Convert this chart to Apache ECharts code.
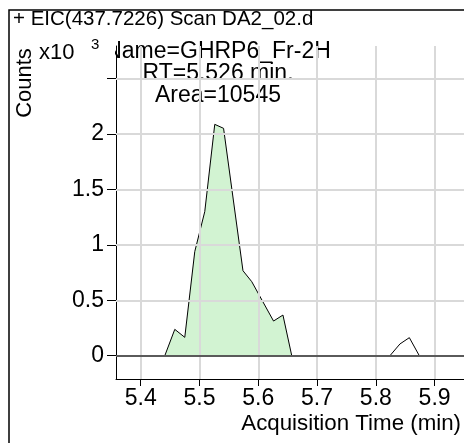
<!DOCTYPE html>
<html>
<head>
<meta charset="utf-8">
<script src="https://cdn.jsdelivr.net/npm/echarts@6/dist/echarts.min.js"></script>
<style>
  html, body { margin: 0; padding: 0; background: #fff; }
  #chart { width: 464px; height: 443px; }
</style>
</head>
<body>
<div id="chart"></div>
<script>
// Extracted ion chromatogram, counts in units of 10^3
const mainPeakTime   = [5.441, 5.458, 5.475, 5.492, 5.509, 5.526, 5.541, 5.574, 5.589, 5.626, 5.642, 5.657];
const mainPeakCounts = [0, 0.238, 0.166, 0.94, 1.30, 2.088, 2.052, 0.767, 0.668, 0.313, 0.367, 0];
const minorPeakTime   = [5.824, 5.841, 5.857, 5.874];
const minorPeakCounts = [0, 0.106, 0.163, 0];

const xTicks = [5.4, 5.5, 5.6, 5.7, 5.8, 5.9];
const yTicks = [0, 0.5, 1, 1.5, 2, 2.5];
const yLabels = [0, 0.5, 1, 1.5, 2];

const titleText = '+ EIC(437.7226) Scan DA2_02.d';
const peakInfo = ['Name=GHRP6_Fr-2H', 'RT=5.526 min.', 'Area=10545'];
const peakRT = 5.526;
const xTitle = 'Acquisition Time (min)';
const yTitle = 'Counts';

const FONT = '"Liberation Sans", Arial, sans-serif';
const TICK_FS = 23;

const zip = (xs, ys) => xs.map((x, i) => [x, ys[i]]);
const gridLine = { color: '#d9d9d9', width: 2, type: 'solid' };

const chart = echarts.init(document.getElementById('chart'));
chart.setOption({
  animation: false,
  backgroundColor: '#fff',
  textStyle: { fontFamily: FONT },
  grid: { left: 116, top: 46, right: -12, bottom: 64, containLabel: false },
  xAxis: {
    type: 'value',
    min: 5.358, max: 5.95,
    axisLine: { show: true, onZero: false, lineStyle: { color: '#000', width: 1 } },
    axisTick: { show: true, length: 7, customValues: xTicks, lineStyle: { color: '#000' } },
    axisLabel: {
      customValues: xTicks, margin: 8, color: '#000',
      fontFamily: FONT, fontSize: TICK_FS,
      formatter: v => v.toFixed(1)
    },
    splitLine: { show: false }
  },
  yAxis: {
    type: 'value',
    min: -0.21, max: 2.795,
    axisLine: { show: true, onZero: false, lineStyle: { color: '#000', width: 1 } },
    axisTick: { show: true, length: 9, customValues: yTicks, lineStyle: { color: '#000' } },
    axisLabel: {
      customValues: yLabels, margin: 12, color: '#000',
      fontFamily: FONT, fontSize: TICK_FS,
      formatter: v => String(v)
    },
    splitLine: { show: false }
  },
  series: [
    {
      // background grid at the tick positions
      type: 'line',
      data: [],
      z: 1,
      markLine: {
        silent: true, symbol: 'none', label: { show: false },
        lineStyle: gridLine,
        data: xTicks.map(v => ({ xAxis: v })).concat(yTicks.filter(v => v !== 0).map(v => ({ yAxis: v })))
      }
    },
    {
      type: 'line',
      data: zip(mainPeakTime, mainPeakCounts),
      symbol: 'none',
      lineStyle: { color: '#000', width: 1 },
      areaStyle: { color: '#b4ebb4', opacity: 0.6, origin: 0 },
      z: 2
    },
    {
      type: 'line',
      data: zip(minorPeakTime, minorPeakCounts),
      symbol: 'none',
      lineStyle: { color: '#000', width: 1 },
      z: 3,
      markLine: {
        silent: true, symbol: 'none', label: { show: false },
        lineStyle: { color: '#5a5a5a', width: 2, type: 'solid' },
        data: [{ yAxis: 0 }]
      }
    }
  ],
  graphic: [
    { type: 'rect', shape: { x: 9, y: 10, width: 470, height: 440 },
      style: { fill: 'none', stroke: '#000', lineWidth: 1.5 }, z: 1 },
    { type: 'text', left: 13, top: 9,
      style: { text: titleText, font: `20.5px ${FONT}`, fill: '#000' }, z: 5 },
    { type: 'text', x: 14, y: 83, rotation: Math.PI / 2,
      style: { text: yTitle, font: `22px ${FONT}`, fill: '#000', align: 'center', verticalAlign: 'top' }, z: 5 },
    { type: 'text', x: 39, y: 42,
      style: { text: 'x10', font: `22px ${FONT}`, fill: '#000' }, z: 5 },
    { type: 'text', x: 91, y: 37,
      style: { text: '3', font: `15px ${FONT}`, fill: '#000' }, z: 5 },
    { type: 'text', x: 218, y: 41,
      style: { text: peakInfo.join('\n'), font: `23px ${FONT}`, fill: '#000',
               align: 'center', verticalAlign: 'top', lineHeight: 22 }, z: 4 },
    { type: 'rect', shape: { x: 100, y: 40, width: 15, height: 24 },
      style: { fill: '#fff' }, z: 4.5 },
    { type: 'text', right: 3, top: 413,
      style: { text: xTitle, font: `22.3px ${FONT}`, fill: '#000' }, z: 5 }
  ]
});
</script>
</body>
</html>
